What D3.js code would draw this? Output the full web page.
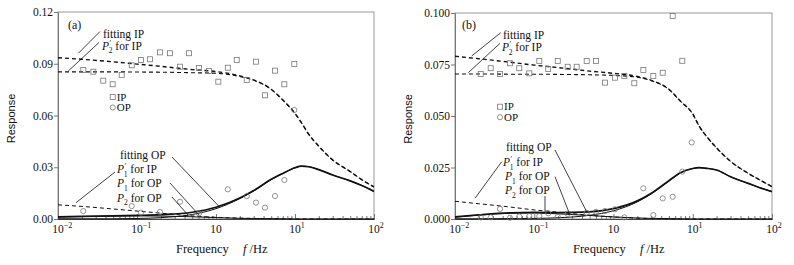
<!DOCTYPE html>
<html>
<head>
<meta charset="UTF-8">
<script src="https://d3js.org/d3.v7.min.js"></script>
<style>
  body { margin: 0; background: #fff; }
  text { font-family: "Liberation Serif", "Times New Roman", Times, serif; fill: #111; }
  .ylab { font-family: "Liberation Sans", Arial, sans-serif; }
</style>
</head>
<body>
<svg id="chart" width="794" height="265"></svg>
<script>
const curveFreq = [0.01, 0.02, 0.05, 0.1, 0.2, 0.5, 1, 2, 3, 5, 7, 10, 12, 15, 20, 30, 50, 70, 100];

// panel (a) fitted curves
const fitIpA = [0.0935, 0.0926, 0.0911, 0.0898, 0.0885, 0.0866, 0.0855, 0.0830, 0.0806, 0.0752, 0.0690, 0.0612, 0.0560, 0.0490, 0.0422, 0.0342, 0.0275, 0.0228, 0.0186];
const p2IpA  = [0.0853, 0.0853, 0.0853, 0.0852, 0.0851, 0.0848, 0.0845, 0.0826, 0.0804, 0.0751, 0.0690, 0.0612, 0.0560, 0.0490, 0.0422, 0.0342, 0.0275, 0.0228, 0.0186];
const p1IpA  = [0.0082, 0.0073, 0.0058, 0.0046, 0.0034, 0.0018, 0.0010, 0.0005, 0.0003, 0.0002, 0.0001, 0, 0, 0, 0, 0, 0, 0, 0];
const fitOpA = [0.0012, 0.0015, 0.0018, 0.0021, 0.0025, 0.0039, 0.0068, 0.0122, 0.0165, 0.0230, 0.0264, 0.0297, 0.0306, 0.0303, 0.0286, 0.0255, 0.0221, 0.0194, 0.0160];
const p1OpA  = [0.0011, 0.0014, 0.0017, 0.0018, 0.0017, 0.0013, 0.0008, 0.0004, 0.0003, 0.0002, 0.0001, 0, 0, 0, 0, 0, 0, 0, 0];
const p2OpA  = [0.0001, 0.0001, 0.0001, 0.0003, 0.0008, 0.0026, 0.0060, 0.0118, 0.0162, 0.0228, 0.0263, 0.0297, 0.0306, 0.0303, 0.0286, 0.0255, 0.0221, 0.0194, 0.0160];

// panel (a) measurements
const ipFreqA = [0.0209, 0.028, 0.0374, 0.0492, 0.064, 0.0857, 0.1124, 0.146, 0.1955, 0.262, 0.350, 0.455, 0.609, 0.815, 1.07, 1.41, 1.83, 2.45, 3.21, 4.17, 5.58, 7.33, 9.8];
const ipA     = [0.0864, 0.0854, 0.0802, 0.0781, 0.0835, 0.0891, 0.0922, 0.0926, 0.0966, 0.0961, 0.0883, 0.0961, 0.0875, 0.0858, 0.0796, 0.0877, 0.0922, 0.0806, 0.0912, 0.0717, 0.0860, 0.0781, 0.0899];
const opFreqA = [0.0209, 0.0857, 0.1124, 0.1955, 0.350, 0.609, 1.41, 2.45, 3.21, 4.17, 5.58, 7.33, 9.8];
const opA     = [0.0046, 0.0075, 0.0037, 0.0041, 0.0100, 0.0033, 0.0172, 0.0133, 0.0095, 0.0066, 0.0133, 0.0226, 0.0632];

// panel (b) fitted curves
const fitIpB = [0.0790, 0.0778, 0.0761, 0.0747, 0.0735, 0.0718, 0.0707, 0.0692, 0.0673, 0.0630, 0.0572, 0.0510, 0.0452, 0.0400, 0.0345, 0.0280, 0.0222, 0.0190, 0.0157];
const p2IpB  = [0.0704, 0.0704, 0.0703, 0.0703, 0.0702, 0.0700, 0.0697, 0.0688, 0.0671, 0.0629, 0.0572, 0.0510, 0.0452, 0.0400, 0.0345, 0.0280, 0.0222, 0.0190, 0.0157];
const p1IpB  = [0.0086, 0.0074, 0.0058, 0.0044, 0.0033, 0.0018, 0.0010, 0.0004, 0.0002, 0.0001, 0, 0, 0, 0, 0, 0, 0, 0, 0];
const fitOpB = [0.0010, 0.0020, 0.0030, 0.0032, 0.0031, 0.0035, 0.0050, 0.0088, 0.0125, 0.0186, 0.0225, 0.0245, 0.0249, 0.0246, 0.0238, 0.0205, 0.0173, 0.0152, 0.0133];
const p1OpB  = [0.0009, 0.0019, 0.0028, 0.0029, 0.0025, 0.0017, 0.0010, 0.0005, 0.0003, 0.0002, 0.0001, 0, 0, 0, 0, 0, 0, 0, 0];
const p2OpB  = [0.0001, 0.0001, 0.0002, 0.0003, 0.0006, 0.0018, 0.0040, 0.0083, 0.0122, 0.0184, 0.0224, 0.0245, 0.0249, 0.0246, 0.0238, 0.0205, 0.0173, 0.0152, 0.0133];

// panel (b) measurements
const ipFreqB = [0.0211, 0.0282, 0.0370, 0.0494, 0.0647, 0.0866, 0.1158, 0.150, 0.198, 0.264, 0.343, 0.459, 0.601, 0.781, 1.044, 1.37, 1.83, 2.38, 3.18, 4.18, 5.58, 7.38];
const ipB     = [0.0704, 0.0732, 0.0704, 0.0756, 0.0732, 0.0707, 0.0767, 0.0728, 0.0767, 0.0739, 0.0739, 0.0767, 0.0767, 0.0662, 0.0686, 0.0694, 0.0659, 0.0723, 0.0694, 0.0710, 0.0985, 0.0768];
const opFreqB = [0.0211, 0.0282, 0.0370, 0.0494, 0.0647, 0.0866, 0.1158, 0.150, 0.198, 0.264, 0.459, 0.601, 0.781, 1.044, 1.37, 2.38, 3.18, 4.18, 5.58, 7.38, 9.7];
const opB     = [0.0008, 0.0008, 0.0049, 0.0006, 0.0012, 0.0014, 0.0014, 0.0028, 0.0010, 0.0025, 0.0030, 0.0035, 0.0039, 0.0047, 0.0008, 0.0149, 0.0019, 0.0100, 0.0108, 0.0230, 0.0372];

// axis ticks
const xMajor = [0.01, 0.1, 1, 10, 100];
const xExp   = ["\u22122", "\u22121", "", "1", "2"];
const yTicksA = [0, 0.03, 0.06, 0.09, 0.12];
const yTicksB = [0, 0.025, 0.05, 0.075, 0.1];

const svg = d3.select("#chart");
const axisCol = "#777";
const markCol = "#777";

function drawPanel(p) {
  const x = d3.scaleLog().domain([0.01, 100]).range([p.left, p.right]);
  const y = d3.scaleLinear().domain([0, p.yMax]).range([p.bottom, p.top]);
  const g = svg.append("g");
  const W = p.right - p.left;

  // frame
  g.append("rect")
    .attr("x", p.left).attr("y", p.top)
    .attr("width", W).attr("height", p.bottom - p.top)
    .attr("fill", "none").attr("stroke", "#999").attr("stroke-width", 1);

  // y axis, ticks outside
  const ya = g.append("g")
    .attr("transform", `translate(${p.left},0)`)
    .call(d3.axisLeft(y).tickValues(p.yTicks).tickSize(4).tickPadding(1)
      .tickFormat(d3.format(p.fmt)));
  ya.select(".domain").attr("stroke", axisCol);
  ya.selectAll(".tick line").attr("stroke", axisCol);
  ya.selectAll(".tick text")
    .style("font-family", '"Liberation Serif", "Times New Roman", serif')
    .style("font-size", "11.5px").attr("fill", "#111");

  // x axis, ticks inside (log minor + major)
  const minors = [];
  for (let e = -2; e < 2; e++) for (let k = 2; k <= 9; k++) minors.push(k * Math.pow(10, e));
  const xm = g.append("g")
    .attr("transform", `translate(0,${p.bottom})`)
    .call(d3.axisBottom(x).tickValues(minors).tickSize(-3).tickFormat(""));
  xm.select(".domain").attr("stroke", "#444");
  xm.selectAll(".tick line").attr("stroke", axisCol);
  const xM = g.append("g")
    .attr("transform", `translate(0,${p.bottom})`)
    .call(d3.axisBottom(x).tickValues(xMajor).tickSize(-5).tickFormat(""));
  xM.select(".domain").remove();
  xM.selectAll(".tick line").attr("stroke", axisCol);

  xMajor.forEach((v, i) => {
    const t = g.append("text")
      .attr("x", x(v) - 5.8).attr("y", p.bottom + 14)
      .style("font-size", "11.5px").text("10");
    if (xExp[i]) {
      t.append("tspan").attr("dy", -5).style("font-size", "8px").text(xExp[i]);
    }
  });

  // axis titles
  g.append("text").attr("class", "ylab")
    .attr("transform", `translate(${p.left - 43},${(p.top + p.bottom) / 2 + 3}) rotate(-90)`)
    .attr("text-anchor", "middle").style("font-size", "11px").text("Response");
  g.append("text").attr("x", p.left + 118).attr("y", p.bottom + 34)
    .style("font-size", "12.5px").text("Frequency");
  const fl = g.append("text").attr("x", p.left + 185).attr("y", p.bottom + 34)
    .style("font-size", "12.5px");
  fl.append("tspan").style("font-style", "italic").text("f");
  fl.append("tspan").text(" /Hz");

  // curves
  const line = vals => d3.line()
    .x((d, i) => x(curveFreq[i]))
    .y(d => y(d))
    .curve(d3.curveMonotoneX)(vals);
  const clipId = "clip" + p.id;
  g.append("clipPath").attr("id", clipId).append("rect")
    .attr("x", p.left).attr("y", p.top).attr("width", W).attr("height", p.bottom - p.top + 1);
  const cg = g.append("g").attr("clip-path", `url(#${clipId})`);
  const curves = [
    { v: p.p2Op, w: 1, dash: null },
    { v: p.p1Op, w: 1, dash: null },
    { v: p.fitOp, w: 1.7, dash: null },
    { v: p.p1Ip, w: 1, dash: "4,3" },
    { v: p.p2Ip, w: 1.1, dash: "4,3" },
    { v: p.fitIp, w: 1.4, dash: "4,3" }
  ];
  curves.forEach(c => {
    cg.append("path").attr("d", line(c.v))
      .attr("fill", "none").attr("stroke", "#111")
      .attr("stroke-width", c.w)
      .attr("stroke-dasharray", c.dash);
  });

  // measured points
  g.selectAll(null).data(p.ipFreq).enter().append("rect")
    .attr("x", d => x(d) - 2.5)
    .attr("y", (d, i) => y(p.ip[i]) - 2.5)
    .attr("width", 5).attr("height", 5)
    .attr("fill", "none").attr("stroke", markCol).attr("stroke-width", 0.8);
  g.selectAll(null).data(p.opFreq).enter().append("circle")
    .attr("cx", d => x(d))
    .attr("cy", (d, i) => y(p.op[i]))
    .attr("r", 2.6)
    .attr("fill", "none").attr("stroke", markCol).attr("stroke-width", 0.8);

  // annotations (offsets from the plot's top-left corner)
  const L = p.left, T = p.top;
  g.append("text").attr("x", L + p.tag[0]).attr("y", T + p.tag[1])
    .style("font-size", "12px").text(p.label);

  const leader = (a, b) => g.append("line")
    .attr("x1", L + a[0]).attr("y1", T + a[1])
    .attr("x2", L + b[0]).attr("y2", T + b[1])
    .attr("stroke", "#111").attr("stroke-width", 0.8);

  p.notes.forEach(n => {
    const t = g.append("text").attr("x", L + n.at[0]).attr("y", T + n.at[1])
      .style("font-size", "11.5px");
    if (n.sym) {
      t.append("tspan").style("font-style", "italic").text("P");
      if (n.prime) {
        t.append("tspan").attr("dx", 0.5).attr("dy", -4).style("font-size", "7.5px").text("\u2032");
        t.append("tspan").attr("dx", -2.5).attr("dy", 7.5).style("font-size", "7.5px").text(n.sym);
        t.append("tspan").attr("dy", -3.5).text(" " + n.text);
      } else {
        t.append("tspan").attr("dy", 3.5).style("font-size", "7.5px").text(n.sym);
        t.append("tspan").attr("dy", -3.5).text(" " + n.text);
      }
    } else {
      t.text(n.text);
    }
    leader(n.from, n.to);
  });

  // legend
  g.append("rect").attr("x", L + p.leg[0] - 2.5).attr("y", T + p.leg[1] - 2.5)
    .attr("width", 5).attr("height", 5)
    .attr("fill", "none").attr("stroke", markCol).attr("stroke-width", 0.8);
  g.append("text").attr("x", L + p.leg[0] + 4).attr("y", T + p.leg[1] + 3.5)
    .style("font-size", "11px").text("IP");
  g.append("circle").attr("cx", L + p.leg[0]).attr("cy", T + p.leg[1] + 10.5).attr("r", 2.6)
    .attr("fill", "none").attr("stroke", markCol).attr("stroke-width", 0.8);
  g.append("text").attr("x", L + p.leg[0] + 4).attr("y", T + p.leg[1] + 14)
    .style("font-size", "11px").text("OP");
}

drawPanel({
  id: "a", label: "(a)", left: 58, right: 374, top: 12, bottom: 219,
  yMax: 0.12, yTicks: yTicksA, fmt: ".2f",
  fitIp: fitIpA, p2Ip: p2IpA, p1Ip: p1IpA, fitOp: fitOpA, p1Op: p1OpA, p2Op: p2OpA,
  ipFreq: ipFreqA, ip: ipA, opFreq: opFreqA, op: opA,
  tag: [10, 17], leg: [54.7, 85],
  notes: [
    { text: "fitting IP", at: [45, 26], from: [42, 19.5], to: [20.3, 41.3] },
    { text: "for IP", sym: "2", prime: true, at: [44, 37.5], from: [41, 30.5], to: [10.3, 59] },
    { text: "fitting OP", at: [62, 147], from: [114, 145], to: [161.3, 194.7] },
    { text: "for IP", sym: "1", prime: true, at: [59, 161], from: [57, 160], to: [18, 190.7] },
    { text: "for OP", sym: "1", at: [59, 175], from: [112, 171], to: [141, 203] },
    { text: "for OP", sym: "2", at: [59, 189.5], from: [114, 185], to: [130, 203] }
  ]
});

drawPanel({
  id: "b", label: "(b)", left: 455, right: 772, top: 13, bottom: 219,
  yMax: 0.1, yTicks: yTicksB, fmt: ".3f",
  fitIp: fitIpB, p2Ip: p2IpB, p1Ip: p1IpB, fitOp: fitOpB, p1Op: p1OpB, p2Op: p2OpB,
  ipFreq: ipFreqB, ip: ipB, opFreq: opFreqB, op: opB,
  tag: [7, 16], leg: [45, 93.7],
  notes: [
    { text: "fitting IP", at: [48, 26], from: [45.7, 19.7], to: [16.7, 43] },
    { text: "for IP", sym: "2", prime: true, at: [47, 38], from: [45, 30.3], to: [13.3, 59.7] },
    { text: "fitting OP", at: [51, 138], from: [100, 137], to: [131.7, 198.7] },
    { text: "for IP", sym: "1", prime: true, at: [48, 153], from: [46.7, 148.7], to: [20, 185.3] },
    { text: "for OP", sym: "1", at: [50, 167], from: [100, 163.7], to: [115, 202] },
    { text: "for OP", sym: "2", at: [50, 181], from: [90, 183], to: [90, 198.7] }
  ]
});
</script>
</body>
</html>
